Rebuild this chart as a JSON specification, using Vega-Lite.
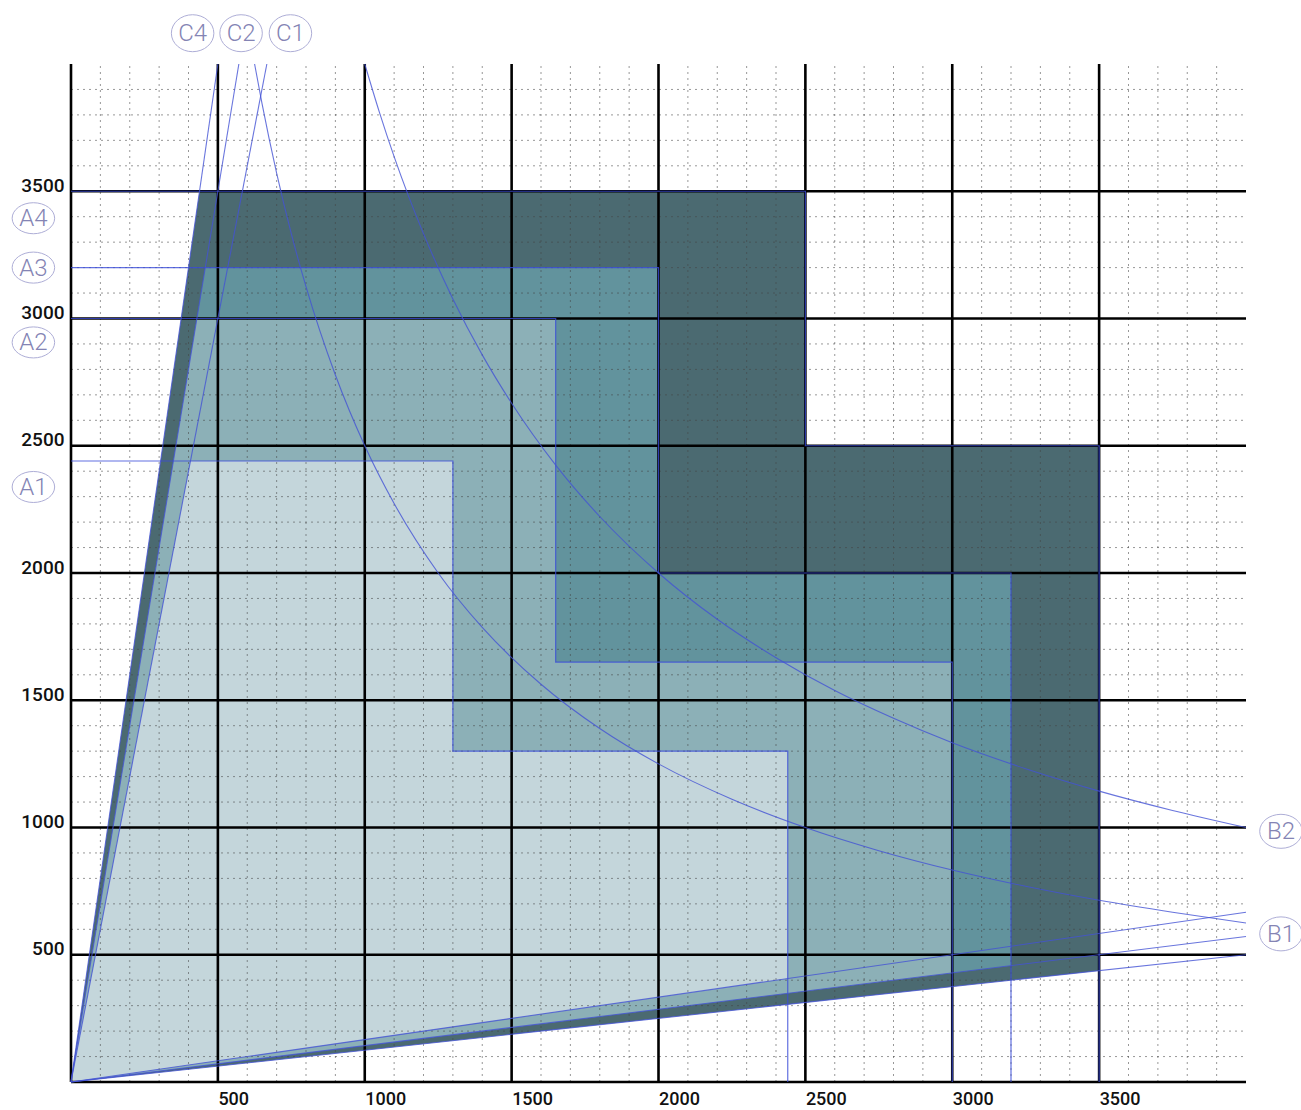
{
  "$schema": "https://vega.github.io/schema/vega-lite/v6.json",
  "width": 1175,
  "height": 1018,
  "autosize": {"type": "none"},
  "padding": {"left": 71, "top": 64, "right": 55, "bottom": 28},
  "background": "white",
  "config": {
    "view": {"stroke": null},
    "axisX": {"labelFont": "Roboto", "labelFontSize": 18, "labelFontWeight": 500, "labelColor": "#111111", "labelAlign": "left", "labelBaseline": "top", "labelPadding": 8, "ticks": false, "domain": false, "grid": false, "labelOverlap": false, "labelFlush": false, "format": "d"},
    "axisY": {"labelFont": "Roboto", "labelFontSize": 19, "labelFontWeight": 500, "labelColor": "#111111", "labelAlign": "right", "labelBaseline": "alphabetic", "labelPadding": 7, "ticks": false, "domain": false, "grid": false, "labelOverlap": false, "labelFlush": false, "format": "d"}
  },
  "datasets": {
    "regions": [
      {"reg": "A4", "i": 0, "x": 0, "y": 0},
      {"reg": "A4", "i": 1, "x": 437.5, "y": 3500},
      {"reg": "A4", "i": 2, "x": 2500, "y": 3500},
      {"reg": "A4", "i": 3, "x": 2500, "y": 2500},
      {"reg": "A4", "i": 4, "x": 3500, "y": 2500},
      {"reg": "A4", "i": 5, "x": 3500, "y": 437.5},
      {"reg": "A4", "i": 6, "x": 0, "y": 0},
      {"reg": "A3", "i": 0, "x": 0, "y": 0},
      {"reg": "A3", "i": 1, "x": 457.1, "y": 3200},
      {"reg": "A3", "i": 2, "x": 2000, "y": 3200},
      {"reg": "A3", "i": 3, "x": 2000, "y": 2000},
      {"reg": "A3", "i": 4, "x": 3200, "y": 2000},
      {"reg": "A3", "i": 5, "x": 3200, "y": 457.1},
      {"reg": "A3", "i": 6, "x": 0, "y": 0},
      {"reg": "A2", "i": 0, "x": 0, "y": 0},
      {"reg": "A2", "i": 1, "x": 428.6, "y": 3000},
      {"reg": "A2", "i": 2, "x": 1650, "y": 3000},
      {"reg": "A2", "i": 3, "x": 1650, "y": 1650},
      {"reg": "A2", "i": 4, "x": 3000, "y": 1650},
      {"reg": "A2", "i": 5, "x": 3000, "y": 428.6},
      {"reg": "A2", "i": 6, "x": 0, "y": 0},
      {"reg": "A1", "i": 0, "x": 0, "y": 0},
      {"reg": "A1", "i": 1, "x": 406.7, "y": 2440},
      {"reg": "A1", "i": 2, "x": 1300, "y": 2440},
      {"reg": "A1", "i": 3, "x": 1300, "y": 1300},
      {"reg": "A1", "i": 4, "x": 2440, "y": 1300},
      {"reg": "A1", "i": 5, "x": 2440, "y": 406.7},
      {"reg": "A1", "i": 6, "x": 0, "y": 0}
    ],
    "grid": [
      {"v": 0, "k": "major"}, {"v": 500, "k": "major"}, {"v": 1000, "k": "major"}, {"v": 1500, "k": "major"},
      {"v": 2000, "k": "major"}, {"v": 2500, "k": "major"}, {"v": 3000, "k": "major"}, {"v": 3500, "k": "major"},
      {"v": 100, "k": "minor"}, {"v": 200, "k": "minor"}, {"v": 300, "k": "minor"}, {"v": 400, "k": "minor"},
      {"v": 600, "k": "minor"}, {"v": 700, "k": "minor"}, {"v": 800, "k": "minor"}, {"v": 900, "k": "minor"},
      {"v": 1100, "k": "minor"}, {"v": 1200, "k": "minor"}, {"v": 1300, "k": "minor"}, {"v": 1400, "k": "minor"},
      {"v": 1600, "k": "minor"}, {"v": 1700, "k": "minor"}, {"v": 1800, "k": "minor"}, {"v": 1900, "k": "minor"},
      {"v": 2100, "k": "minor"}, {"v": 2200, "k": "minor"}, {"v": 2300, "k": "minor"}, {"v": 2400, "k": "minor"},
      {"v": 2600, "k": "minor"}, {"v": 2700, "k": "minor"}, {"v": 2800, "k": "minor"}, {"v": 2900, "k": "minor"},
      {"v": 3100, "k": "minor"}, {"v": 3200, "k": "minor"}, {"v": 3300, "k": "minor"}, {"v": 3400, "k": "minor"},
      {"v": 3600, "k": "minor"}, {"v": 3700, "k": "minor"}, {"v": 3800, "k": "minor"}, {"v": 3900, "k": "minor"}
    ],
    "rays": [
      {"id": "C4", "i": 0, "x": 0, "y": 0}, {"id": "C4", "i": 1, "x": 500, "y": 4000},
      {"id": "C2", "i": 0, "x": 0, "y": 0}, {"id": "C2", "i": 1, "x": 571.4, "y": 4000},
      {"id": "C1", "i": 0, "x": 0, "y": 0}, {"id": "C1", "i": 1, "x": 666.7, "y": 4000},
      {"id": "B4", "i": 0, "x": 0, "y": 0}, {"id": "B4", "i": 1, "x": 4000, "y": 500},
      {"id": "B2", "i": 0, "x": 0, "y": 0}, {"id": "B2", "i": 1, "x": 4000, "y": 571.4},
      {"id": "B1", "i": 0, "x": 0, "y": 0}, {"id": "B1", "i": 1, "x": 4000, "y": 666.7}
    ],
    "curves": [
      {"id": "H1", "x": 625, "y": 4000}, {"id": "H1", "x": 650, "y": 3846},
      {"id": "H1", "x": 700, "y": 3571}, {"id": "H1", "x": 750, "y": 3333},
      {"id": "H1", "x": 800, "y": 3125}, {"id": "H1", "x": 900, "y": 2778},
      {"id": "H1", "x": 1000, "y": 2500}, {"id": "H1", "x": 1100, "y": 2273},
      {"id": "H1", "x": 1250, "y": 2000}, {"id": "H1", "x": 1400, "y": 1786},
      {"id": "H1", "x": 1600, "y": 1563}, {"id": "H1", "x": 1800, "y": 1389},
      {"id": "H1", "x": 2000, "y": 1250}, {"id": "H1", "x": 2250, "y": 1111},
      {"id": "H1", "x": 2500, "y": 1000}, {"id": "H1", "x": 2750, "y": 909},
      {"id": "H1", "x": 3000, "y": 833}, {"id": "H1", "x": 3250, "y": 769},
      {"id": "H1", "x": 3500, "y": 714}, {"id": "H1", "x": 3750, "y": 667},
      {"id": "H1", "x": 4000, "y": 625},
      {"id": "H2", "x": 1000, "y": 4000}, {"id": "H2", "x": 1050, "y": 3810},
      {"id": "H2", "x": 1100, "y": 3636}, {"id": "H2", "x": 1200, "y": 3333},
      {"id": "H2", "x": 1300, "y": 3077}, {"id": "H2", "x": 1400, "y": 2857},
      {"id": "H2", "x": 1500, "y": 2667}, {"id": "H2", "x": 1650, "y": 2424},
      {"id": "H2", "x": 1800, "y": 2222}, {"id": "H2", "x": 2000, "y": 2000},
      {"id": "H2", "x": 2200, "y": 1818}, {"id": "H2", "x": 2400, "y": 1667},
      {"id": "H2", "x": 2600, "y": 1538}, {"id": "H2", "x": 2800, "y": 1429},
      {"id": "H2", "x": 3000, "y": 1333}, {"id": "H2", "x": 3250, "y": 1231},
      {"id": "H2", "x": 3500, "y": 1143}, {"id": "H2", "x": 3750, "y": 1067},
      {"id": "H2", "x": 4000, "y": 1000}
    ],
    "steps": [
      {"id": "A4", "i": 0, "x": 0, "y": 3500}, {"id": "A4", "i": 1, "x": 2500, "y": 3500},
      {"id": "A4", "i": 2, "x": 2500, "y": 2500}, {"id": "A4", "i": 3, "x": 3500, "y": 2500},
      {"id": "A4", "i": 4, "x": 3500, "y": 0},
      {"id": "A3", "i": 0, "x": 0, "y": 3200}, {"id": "A3", "i": 1, "x": 2000, "y": 3200},
      {"id": "A3", "i": 2, "x": 2000, "y": 2000}, {"id": "A3", "i": 3, "x": 3200, "y": 2000},
      {"id": "A3", "i": 4, "x": 3200, "y": 0},
      {"id": "A2", "i": 0, "x": 0, "y": 3000}, {"id": "A2", "i": 1, "x": 1650, "y": 3000},
      {"id": "A2", "i": 2, "x": 1650, "y": 1650}, {"id": "A2", "i": 3, "x": 3000, "y": 1650},
      {"id": "A2", "i": 4, "x": 3000, "y": 0},
      {"id": "A1", "i": 0, "x": 0, "y": 2440}, {"id": "A1", "i": 1, "x": 1300, "y": 2440},
      {"id": "A1", "i": 2, "x": 1300, "y": 1300}, {"id": "A1", "i": 3, "x": 2440, "y": 1300},
      {"id": "A1", "i": 4, "x": 2440, "y": 0}
    ],
    "labels": [
      {"t": "A4", "g": "A", "x": -128, "y": 3394},
      {"t": "A3", "g": "A", "x": -128, "y": 3200},
      {"t": "A2", "g": "A", "x": -128, "y": 2906},
      {"t": "A1", "g": "A", "x": -128, "y": 2338},
      {"t": "C4", "g": "C", "x": 414, "y": 4121},
      {"t": "C2", "g": "C", "x": 579, "y": 4121},
      {"t": "C1", "g": "C", "x": 747, "y": 4121},
      {"t": "B2", "g": "B", "x": 4119, "y": 985},
      {"t": "B1", "g": "B", "x": 4119, "y": 582}
    ]
  },
  "layer": [
    {
      "data": {"name": "regions"},
      "transform": [{"filter": "datum.reg === 'A4'"}],
      "mark": {"type": "line", "fill": "#4b6a71", "strokeOpacity": 0},
      "encoding": {
        "x": {"field": "x", "type": "quantitative", "scale": {"domain": [0, 4000], "nice": false, "zero": false}, "axis": {"title": null, "values": [500, 1000, 1500, 2000, 2500, 3000, 3500]}},
        "y": {"field": "y", "type": "quantitative", "scale": {"domain": [0, 4000], "nice": false, "zero": false}, "axis": {"title": null, "values": [500, 1000, 1500, 2000, 2500, 3000, 3500]}},
        "order": {"field": "i", "type": "quantitative"}
      }
    },
    {
      "data": {"name": "regions"},
      "transform": [{"filter": "datum.reg === 'A3'"}],
      "mark": {"type": "line", "fill": "#62939d", "strokeOpacity": 0},
      "encoding": {
        "x": {"field": "x", "type": "quantitative", "scale": {"domain": [0, 4000], "nice": false, "zero": false}, "axis": {"title": null, "values": [500, 1000, 1500, 2000, 2500, 3000, 3500]}},
        "y": {"field": "y", "type": "quantitative", "scale": {"domain": [0, 4000], "nice": false, "zero": false}, "axis": {"title": null, "values": [500, 1000, 1500, 2000, 2500, 3000, 3500]}},
        "order": {"field": "i", "type": "quantitative"}
      }
    },
    {
      "data": {"name": "regions"},
      "transform": [{"filter": "datum.reg === 'A2'"}],
      "mark": {"type": "line", "fill": "#8cb0b7", "strokeOpacity": 0},
      "encoding": {
        "x": {"field": "x", "type": "quantitative", "scale": {"domain": [0, 4000], "nice": false, "zero": false}, "axis": {"title": null, "values": [500, 1000, 1500, 2000, 2500, 3000, 3500]}},
        "y": {"field": "y", "type": "quantitative", "scale": {"domain": [0, 4000], "nice": false, "zero": false}, "axis": {"title": null, "values": [500, 1000, 1500, 2000, 2500, 3000, 3500]}},
        "order": {"field": "i", "type": "quantitative"}
      }
    },
    {
      "data": {"name": "regions"},
      "transform": [{"filter": "datum.reg === 'A1'"}],
      "mark": {"type": "line", "fill": "#c4d6db", "strokeOpacity": 0},
      "encoding": {
        "x": {"field": "x", "type": "quantitative", "scale": {"domain": [0, 4000], "nice": false, "zero": false}, "axis": {"title": null, "values": [500, 1000, 1500, 2000, 2500, 3000, 3500]}},
        "y": {"field": "y", "type": "quantitative", "scale": {"domain": [0, 4000], "nice": false, "zero": false}, "axis": {"title": null, "values": [500, 1000, 1500, 2000, 2500, 3000, 3500]}},
        "order": {"field": "i", "type": "quantitative"}
      }
    },
    {
      "data": {"name": "grid"},
      "transform": [{"filter": "datum.k === 'minor'"}],
      "mark": {"type": "rule", "color": "#444444", "strokeWidth": 1, "strokeDash": [2, 4], "opacity": 0.55},
      "encoding": {
        "x": {"field": "v", "type": "quantitative", "scale": {"domain": [0, 4000], "nice": false, "zero": false}, "axis": {"title": null, "values": [500, 1000, 1500, 2000, 2500, 3000, 3500]}},
        "y": {"datum": 0, "type": "quantitative", "scale": {"domain": [0, 4000], "nice": false, "zero": false}, "axis": {"title": null, "values": [500, 1000, 1500, 2000, 2500, 3000, 3500]}},
        "y2": {"datum": 4000}
      }
    },
    {
      "data": {"name": "grid"},
      "transform": [{"filter": "datum.k === 'minor'"}],
      "mark": {"type": "rule", "color": "#444444", "strokeWidth": 1, "strokeDash": [2, 4], "opacity": 0.55},
      "encoding": {
        "y": {"field": "v", "type": "quantitative", "scale": {"domain": [0, 4000], "nice": false, "zero": false}, "axis": {"title": null, "values": [500, 1000, 1500, 2000, 2500, 3000, 3500]}},
        "x": {"datum": 0, "type": "quantitative", "scale": {"domain": [0, 4000], "nice": false, "zero": false}, "axis": {"title": null, "values": [500, 1000, 1500, 2000, 2500, 3000, 3500]}},
        "x2": {"datum": 4000}
      }
    },
    {
      "data": {"name": "grid"},
      "transform": [{"filter": "datum.k === 'major'"}],
      "mark": {"type": "rule", "color": "#000000", "strokeWidth": 2.6},
      "encoding": {
        "x": {"field": "v", "type": "quantitative", "scale": {"domain": [0, 4000], "nice": false, "zero": false}, "axis": {"title": null, "values": [500, 1000, 1500, 2000, 2500, 3000, 3500]}},
        "y": {"datum": 0, "type": "quantitative", "scale": {"domain": [0, 4000], "nice": false, "zero": false}, "axis": {"title": null, "values": [500, 1000, 1500, 2000, 2500, 3000, 3500]}},
        "y2": {"datum": 4000}
      }
    },
    {
      "data": {"name": "grid"},
      "transform": [{"filter": "datum.k === 'major'"}],
      "mark": {"type": "rule", "color": "#000000", "strokeWidth": 2.6},
      "encoding": {
        "y": {"field": "v", "type": "quantitative", "scale": {"domain": [0, 4000], "nice": false, "zero": false}, "axis": {"title": null, "values": [500, 1000, 1500, 2000, 2500, 3000, 3500]}},
        "x": {"datum": 0, "type": "quantitative", "scale": {"domain": [0, 4000], "nice": false, "zero": false}, "axis": {"title": null, "values": [500, 1000, 1500, 2000, 2500, 3000, 3500]}},
        "x2": {"datum": 4000}
      }
    },
    {
      "data": {"name": "steps"},
      "mark": {"type": "line", "color": "#3a4bd8", "strokeWidth": 1.2, "opacity": 0.8},
      "encoding": {
        "x": {"field": "x", "type": "quantitative", "scale": {"domain": [0, 4000], "nice": false, "zero": false}, "axis": {"title": null, "values": [500, 1000, 1500, 2000, 2500, 3000, 3500]}},
        "y": {"field": "y", "type": "quantitative", "scale": {"domain": [0, 4000], "nice": false, "zero": false}, "axis": {"title": null, "values": [500, 1000, 1500, 2000, 2500, 3000, 3500]}},
        "detail": {"field": "id"},
        "order": {"field": "i", "type": "quantitative"}
      }
    },
    {
      "data": {"name": "rays"},
      "mark": {"type": "line", "color": "#4352d4", "strokeWidth": 1.1, "opacity": 0.8},
      "encoding": {
        "x": {"field": "x", "type": "quantitative", "scale": {"domain": [0, 4000], "nice": false, "zero": false}, "axis": {"title": null, "values": [500, 1000, 1500, 2000, 2500, 3000, 3500]}},
        "y": {"field": "y", "type": "quantitative", "scale": {"domain": [0, 4000], "nice": false, "zero": false}, "axis": {"title": null, "values": [500, 1000, 1500, 2000, 2500, 3000, 3500]}},
        "detail": {"field": "id"},
        "order": {"field": "i", "type": "quantitative"}
      }
    },
    {
      "data": {"name": "curves"},
      "mark": {"type": "line", "color": "#4352d4", "strokeWidth": 1.1, "opacity": 0.8, "interpolate": "monotone"},
      "encoding": {
        "x": {"field": "x", "type": "quantitative", "scale": {"domain": [0, 4000], "nice": false, "zero": false}, "axis": {"title": null, "values": [500, 1000, 1500, 2000, 2500, 3000, 3500]}},
        "y": {"field": "y", "type": "quantitative", "scale": {"domain": [0, 4000], "nice": false, "zero": false}, "axis": {"title": null, "values": [500, 1000, 1500, 2000, 2500, 3000, 3500]}},
        "detail": {"field": "id"}
      }
    },
    {
      "data": {"name": "labels"},
      "mark": {"type": "point", "filled": false, "stroke": "#8c8cc6", "strokeWidth": 1, "size": 1806},
      "encoding": {
        "x": {"field": "x", "type": "quantitative", "scale": {"domain": [0, 4000], "nice": false, "zero": false}, "axis": {"title": null, "values": [500, 1000, 1500, 2000, 2500, 3000, 3500]}},
        "y": {"field": "y", "type": "quantitative", "scale": {"domain": [0, 4000], "nice": false, "zero": false}, "axis": {"title": null, "values": [500, 1000, 1500, 2000, 2500, 3000, 3500]}},
        "shape": {"field": "g", "type": "nominal", "legend": null, "scale": {"domain": ["A", "B", "C"], "range": [
          "M-1,0C-1,-0.4,-0.552,-0.73,0,-0.73C0.552,-0.73,1,-0.4,1,0C1,0.4,0.552,0.73,0,0.73C-0.552,0.73,-1,0.4,-1,0Z",
          "M-1,0C-1,-0.44,-0.552,-0.8,0,-0.8C0.552,-0.8,1,-0.44,1,0C1,0.44,0.552,0.8,0,0.8C-0.552,0.8,-1,0.44,-1,0Z",
          "M-1,0C-1,-0.48,-0.552,-0.87,0,-0.87C0.552,-0.87,1,-0.48,1,0C1,0.48,0.552,0.87,0,0.87C-0.552,0.87,-1,0.48,-1,0Z"
        ]}}
      }
    },
    {
      "data": {"name": "labels"},
      "mark": {"type": "text", "font": "Roboto", "fontWeight": 300, "fontSize": 24, "color": "#8484b4", "align": "center", "baseline": "middle", "dy": 1},
      "encoding": {
        "x": {"field": "x", "type": "quantitative", "scale": {"domain": [0, 4000], "nice": false, "zero": false}, "axis": {"title": null, "values": [500, 1000, 1500, 2000, 2500, 3000, 3500]}},
        "y": {"field": "y", "type": "quantitative", "scale": {"domain": [0, 4000], "nice": false, "zero": false}, "axis": {"title": null, "values": [500, 1000, 1500, 2000, 2500, 3000, 3500]}},
        "text": {"field": "t"}
      }
    }
  ]
}
